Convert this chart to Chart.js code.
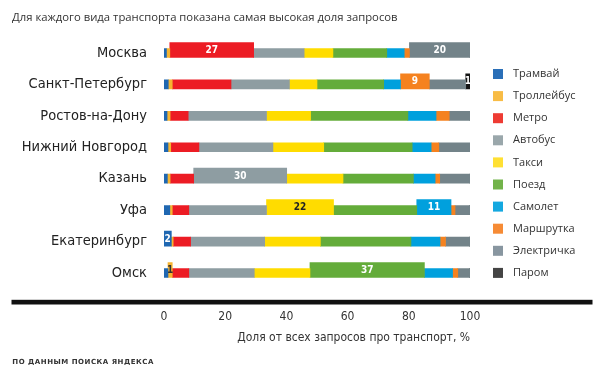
<!DOCTYPE html>
<html>
<head>
<meta charset="utf-8">
<script src="https://cdn.jsdelivr.net/npm/chart.js@4.4.1/dist/chart.umd.min.js"></script>
<style>
  html, body { margin: 0; padding: 0; background: #fff; }
</style>
</head>
<body>
<canvas id="myChart" width="600" height="368"></canvas>
<script>
var cities = ["Москва", "Санкт-Петербург", "Ростов-на-Дону", "Нижний Новгород", "Казань", "Уфа", "Екатеринбург", "Омск"];
var transports = ["Трамвай", "Троллейбус", "Метро", "Автобус", "Такси", "Поезд", "Самолет", "Маршрутка", "Электричка", "Паром"];

// share of queries, % (one value per city)
var tram        = [0.8, 1.4, 1.0, 1.3, 1.1, 1.9, 2.4, 1.3];
var trolleybus  = [1.1, 1.3, 1.0, 0.9, 0.9, 0.8, 0.6, 1.4];
var metro       = [27.4, 19.2, 5.9, 9.2, 7.7, 5.4, 5.7, 5.4];
var bus         = [16.5, 19.1, 25.6, 24.2, 30.4, 25.4, 24.2, 21.4];
var taxi        = [9.4, 9.0, 14.4, 16.6, 18.4, 21.9, 18.2, 18.2];
var train       = [17.6, 21.8, 31.8, 28.9, 23.0, 27.2, 29.6, 37.4];
var plane       = [5.7, 5.5, 9.2, 6.2, 7.1, 11.2, 9.5, 9.2];
var minibus     = [1.7, 9.4, 4.3, 2.5, 1.5, 1.3, 1.8, 1.7];
var elektrichka = [19.8, 11.9, 6.8, 10.3, 9.9, 4.8, 7.9, 3.9];
var ferry       = [0.4, 1.4, 0.3, 0.4, 0.4, 0.3, 0.4, 0.3];

// highest share for each transport: [transport index, city index]
var highlights = [[0, 6], [1, 7], [2, 0], [3, 4], [4, 5], [5, 7], [6, 5], [7, 1], [8, 0], [9, 1]];
var xTicks = [0, 20, 40, 60, 80, 100];

var series = [tram, trolleybus, metro, bus, taxi, train, plane, minibus, elektrichka, ferry];
var colors = ["#1f67b1", "#f6b431", "#ec1c24", "#8e9da2", "#ffdc00", "#64ac3a", "#00a0dd", "#f5821f", "#738389", "#151515"];
var legendColors = ["#2a6fb8", "#f8bc45", "#ee3b33", "#9aa7ab", "#ffe033", "#72b34a", "#14a8e0", "#f68b35", "#8896a0", "#444444"];
var labelColors = ["#fff", "#333", "#fff", "#fff", "#222", "#fff", "#fff", "#fff", "#fff", "#fff"];

var datasets = [];
series.forEach(function(vals, t){
  var hiCities = highlights.filter(function(h){ return h[0] === t; }).map(function(h){ return h[1]; });
  datasets.push({
    label: transports[t],
    data: vals.map(function(v, c){ return hiCities.indexOf(c) < 0 ? v : null; }),
    backgroundColor: colors[t],
    barThickness: 9,
    stack: 's'
  });
  datasets.push({
    label: transports[t],
    hi: true,
    labelColor: labelColors[t],
    data: vals.map(function(v, c){ return hiCities.indexOf(c) >= 0 ? v : null; }),
    backgroundColor: colors[t],
    barThickness: 15,
    stack: 's'
  });
});

var condensed = "'DejaVu Sans Condensed', 'DejaVu Sans', sans-serif";

var extras = {
  id: 'extras',
  afterDatasetsUpdate: function(chart){
    // highlighted bars grow upwards only
    chart.data.datasets.forEach(function(ds, i){
      if (!ds.hi) return;
      chart.getDatasetMeta(i).data.forEach(function(bar){ bar.y -= 3; });
    });
  },
  afterDatasetsDraw: function(chart){
    var ctx = chart.ctx;
    ctx.save();
    ctx.font = "bold 10px " + condensed;
    ctx.textAlign = 'center';
    ctx.textBaseline = 'middle';
    chart.data.datasets.forEach(function(ds, i){
      if (!ds.hi) return;
      chart.getDatasetMeta(i).data.forEach(function(bar, c){
        var v = ds.data[c];
        if (v == null) return;
        ctx.fillStyle = ds.labelColor;
        ctx.fillText(Math.round(v), (bar.x + bar.base) / 2, bar.y + 0.5);
      });
    });
    ctx.restore();
  },
  afterDraw: function(chart){
    var ctx = chart.ctx;
    ctx.save();
    // legend
    ctx.font = "11px 'Open Sans', sans-serif";
    ctx.textBaseline = 'middle';
    ctx.textAlign = 'left';
    transports.forEach(function(name, t){
      var y = 74 + t * 22.1;
      ctx.fillStyle = legendColors[t];
      ctx.fillRect(493, y - 5, 10, 10);
      ctx.fillStyle = '#333';
      ctx.fillText(name, 513, y);
    });
    // thick rule
    ctx.fillStyle = '#111';
    ctx.fillRect(11.5, 299.8, 581, 4.7);
    // source
    var src = 'ПО ДАННЫМ ПОИСКА ЯНДЕКСА';
    ctx.font = "bold 7px 'DejaVu Sans', sans-serif";
    var w = ctx.measureText(src).width;
    ctx.letterSpacing = Math.max(0, (141 - w) / (src.length - 1)) + 'px';
    ctx.fillStyle = '#333';
    ctx.fillText(src, 12.3, 361.8);
    ctx.restore();
  }
};

var ctx = document.getElementById("myChart");
new Chart(ctx, {
  type: 'bar',
  data: { labels: cities, datasets: datasets },
  plugins: [extras],
  options: {
    indexAxis: 'y',
    responsive: false,
    animation: false,
    layout: { padding: { left: 12, right: 130, top: 0, bottom: 0 } },
    plugins: {
      legend: { display: false },
      tooltip: { enabled: false },
      title: {
        display: true,
        text: 'Для каждого вида транспорта показана самая высокая доля запросов',
        align: 'start',
        color: '#333',
        font: { family: "'Open Sans', sans-serif", size: 11.3, weight: 'normal' },
        padding: { top: 11, bottom: 12.7 }
      }
    },
    scales: {
      x: {
        stacked: true,
        min: 0,
        max: 100,
        afterBuildTicks: function(s){ s.ticks = xTicks.map(function(v){ return { value: v }; }); },
        afterFit: function(s){ s.height = 79.3; },
        grid: { display: false, drawTicks: false },
        border: { display: false },
        ticks: { padding: 21, color: '#333', font: { family: condensed, size: 12 } },
        title: {
          display: true,
          text: 'Доля от всех запросов про транспорт, %',
          align: 'end',
          color: '#333',
          font: { family: condensed, size: 12 },
          padding: { top: 0, bottom: 22.5 }
        }
      },
      y: {
        stacked: true,
        afterFit: function(s){ s.width = 152; },
        grid: { display: false, drawTicks: false },
        border: { display: false },
        ticks: { padding: 17, color: '#222', font: { family: condensed, size: 14.5 } }
      }
    }
  }
});
</script>
</body>
</html>
